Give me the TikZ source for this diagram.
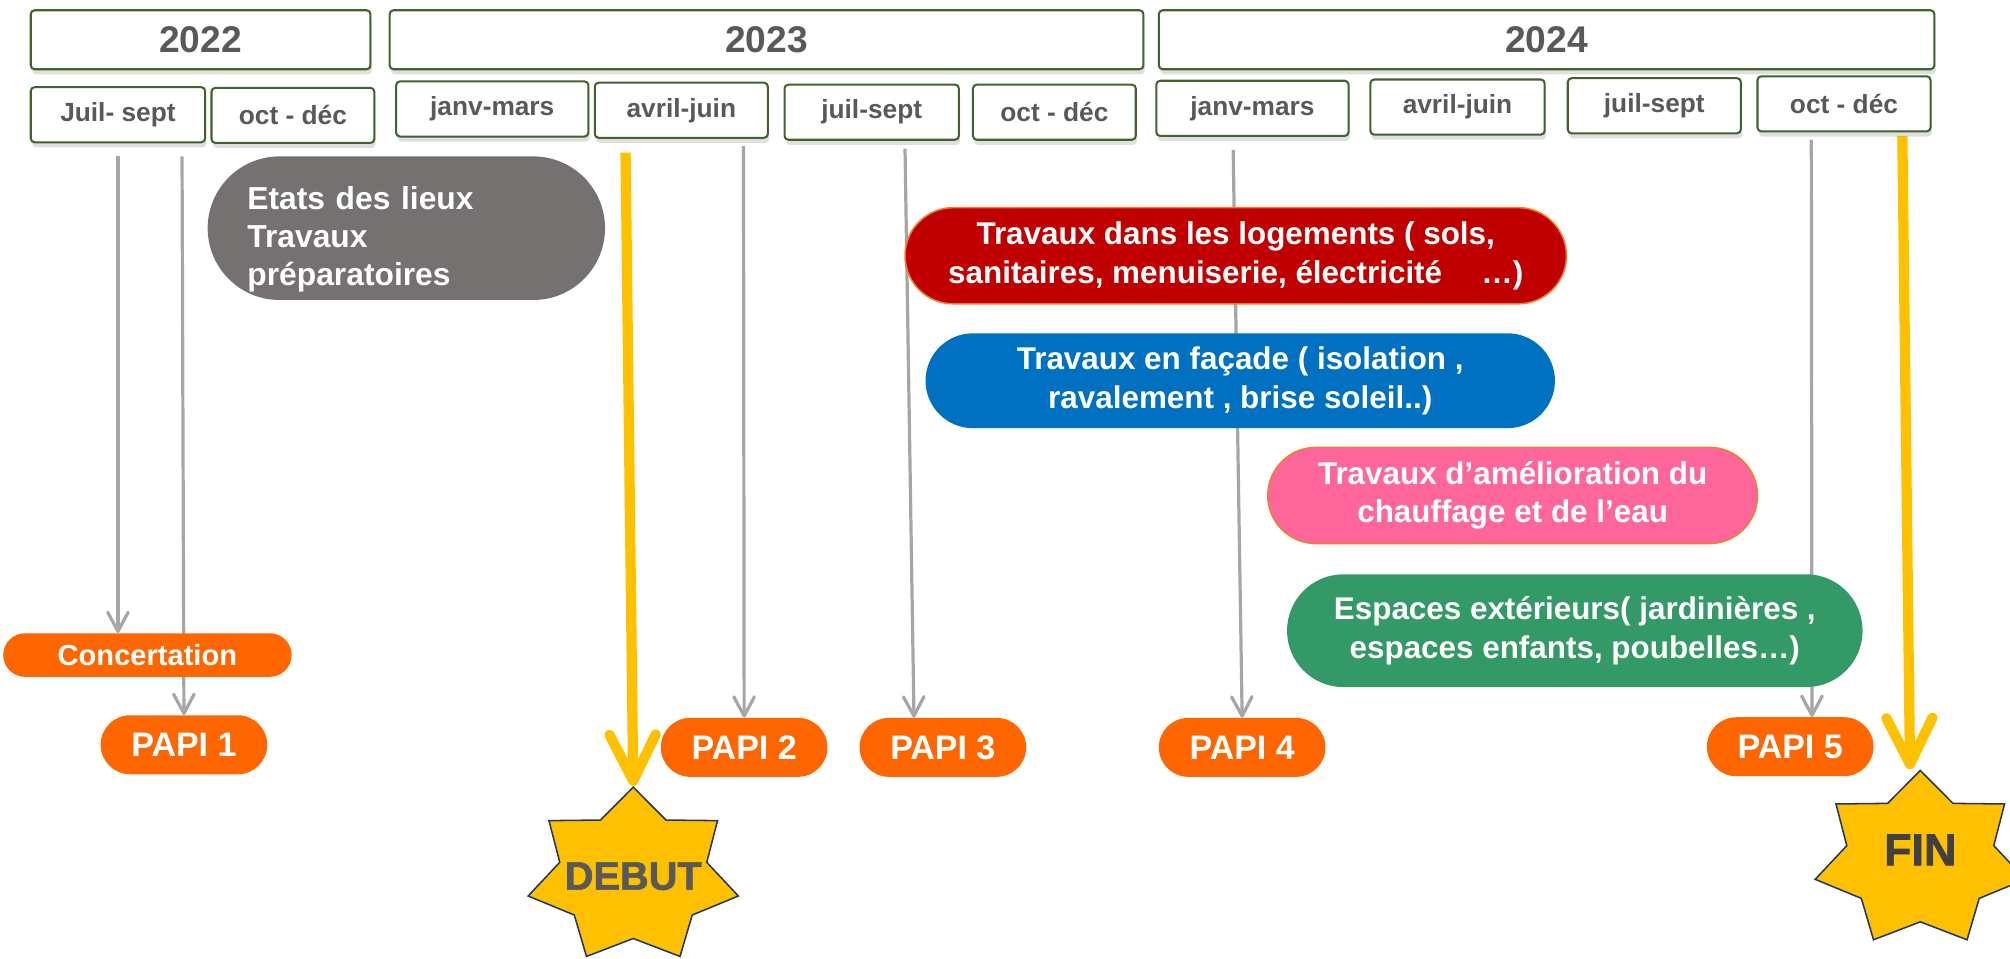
\documentclass[tikz,border=0pt]{standalone}
\usepackage{fontspec}
\setmainfont{Liberation Sans}
\usetikzlibrary{shapes.misc,shapes.geometric,arrows.meta,shadows,backgrounds}

\definecolor{boxgreen}{HTML}{41622C}
\definecolor{labelgray}{HTML}{595959}
\definecolor{arrowgray}{HTML}{A6A6A6}
\definecolor{papiorange}{HTML}{FF6600}
\definecolor{startyellow}{HTML}{FFC000}
\definecolor{etatsgray}{HTML}{767171}
\definecolor{logred}{HTML}{C00000}
\definecolor{facadeblue}{HTML}{0070C0}
\definecolor{chauffpink}{HTML}{FF6699}
\definecolor{extgreen}{HTML}{339966}
\definecolor{rimorange}{HTML}{ED7D31}
\definecolor{starnavy}{HTML}{1F3864}

\tikzset{
    yearbox/.style={draw=boxgreen, line width=1.6pt, fill=white, rounded corners=3pt,
        minimum height=46pt, inner sep=0pt, text=labelgray,
        font=\fontsize{29}{34}\selectfont\bfseries,
        drop shadow={shadow xshift=1pt, shadow yshift=-4pt, opacity=0.25}},
    quarterbox/.style={yearbox, minimum height=43pt,
        font=\fontsize{20.5}{24}\selectfont\bfseries},
    pill/.style={rounded rectangle, inner sep=0pt, text=white, align=center,
        font=\fontsize{24.5}{30}\selectfont\bfseries},
    papi/.style={pill, fill=papiorange, minimum width=130pt, minimum height=46pt,
        font=\fontsize{26.5}{30}\selectfont\bfseries},
    starbadge/.style={star, star points=7, star point ratio=1.43, minimum size=139pt,
        inner sep=0pt, fill=startyellow, draw=starnavy, line width=1.2pt, transform shape},
    grayarrow/.style={draw=arrowgray, line width=2.5pt,
        -{Straight Barb[length=15pt, width=16pt, round]}},
    yellowarrow/.style={draw=startyellow, line width=8pt,
        -{Straight Barb[length=36pt, width=36pt, round]}}
}

\begin{document}
\begin{tikzpicture}[x=1pt, y=-1pt]
    \useasboundingbox (0,0) rectangle (1568,748);

    % annees
    \node[yearbox, minimum width=265pt] (y2022) at (156.5, 31) {2022};
    \node[yearbox, minimum width=588pt] (y2023) at (598, 31) {2023};
    \node[yearbox, minimum width=605pt] (y2024) at (1206.5, 31) {2024};

    % trimestres
    \node[quarterbox, minimum width=136pt] (q1) at (92, 89.5) {Juil- sept};
    \node[quarterbox, minimum width=127pt] (q2) at (228.5, 90) {oct - déc};
    \node[quarterbox, minimum width=150pt] (q3) at (384, 85) {janv-mars};
    \node[quarterbox, minimum width=135pt] (q4) at (531.5, 86) {avril-juin};
    \node[quarterbox, minimum width=136pt] (q5) at (680, 87.5) {juil-sept};
    \node[quarterbox, minimum width=127pt] (q6) at (822.5, 87.5) {oct - déc};
    \node[quarterbox, minimum width=150pt] (q7) at (977, 84.5) {janv-mars};
    \node[quarterbox, minimum width=136pt] (q8) at (1137, 83.5) {avril-juin};
    \node[quarterbox, minimum width=135pt] (q9) at (1290.5, 82.5) {juil-sept};
    \node[quarterbox, minimum width=135pt] (q10) at (1438.5, 81) {oct - déc};

    % travaux
    \node[pill, fill=etatsgray, minimum width=310pt, minimum height=112pt,
        text width=248pt, align=left, font=\fontsize{24.8}{29.5}\selectfont\bfseries]
        (etats) at (317, 178) {\rule{0pt}{35pt}Etats des lieux\\Travaux\\préparatoires};
    \node[pill, fill=logred, draw=rimorange, line width=1.2pt,
        minimum width=516pt, minimum height=75pt] (logements) at (964, 199.5)
        {Travaux dans les logements ( sols,\\sanitaires, menuiserie, électricité\hspace{1.25em}…)};
    \node[pill, fill=facadeblue, minimum width=491pt, minimum height=74pt]
        (facade) at (967.5, 297) {Travaux en façade ( isolation ,\\ravalement , brise soleil..)};
    \node[pill, fill=chauffpink, draw=rimorange, line width=1.2pt,
        minimum width=382pt, minimum height=75pt] (chauffage) at (1180, 386.5)
        {Travaux d’amélioration du\\chauffage et de l’eau};
    \node[pill, fill=extgreen, minimum width=449pt, minimum height=88pt]
        (exterieurs) at (1228.5, 492) {Espaces extérieurs( jardinières ,\\espaces enfants, poubelles…)};

    % concertation et PAPI
    \node[pill, fill=papiorange, minimum width=225pt, minimum height=34pt,
        font=\fontsize{22.7}{26}\selectfont\bfseries] (concert) at (115, 511) {Concertation};
    \node[papi] (papi1) at (143.5, 581) {PAPI 1};
    \node[papi] (papi2) at (580.5, 583) {PAPI 2};
    \node[papi] (papi3) at (735.5, 583) {PAPI 3};
    \node[papi] (papi4) at (969, 583) {PAPI 4};
    \node[papi] (papi5) at (1396.5, 582.5) {PAPI 5};

    % etoiles
    \begin{scope}[shift={(494, 683.5)}, xscale=1.21]
        \node[starbadge] (debut) at (0, 0) {};
    \end{scope}
    \node[text=labelgray, font=\fontsize{31}{34}\selectfont\bfseries\addfontfeatures{FakeBold=1.5}]
        (debuttxt) at (debut.center) {DEBUT};

    \begin{scope}[shift={(1498, 670.5)}, xscale=1.21]
        \node[starbadge] (fin) at (0, 0) {};
    \end{scope}
    \node[text=black!75, font=\fontsize{35}{38}\selectfont\bfseries\addfontfeatures{FakeBold=1.5}]
        (fintxt) at ([yshift=7.5pt]fin.center) {FIN};

    % fleches
    \begin{scope}[on background layer]
        \coordinate (g1) at (92, 122);
        \coordinate (g2) at (142, 122);
        \coordinate (g3) at (580, 114);
        \coordinate (g4) at (706, 116);
        \coordinate (g5) at (962, 117);
        \coordinate (g6) at (1413, 109);
        \coordinate (ys1) at (488, 119);
        \coordinate (ys2) at (1484, 106);

        \draw[grayarrow] (g1) -- (g1 |- concert.north);
        \draw[grayarrow] (g2) -- (papi1.north);
        \draw[grayarrow] (g3) -- (papi2.north);
        \draw[grayarrow] (g4) -- ([xshift=-22.5pt]papi3.north);
        \draw[grayarrow] (g5) -- (papi4.north);
        \draw[grayarrow] (g6) -- ([xshift=17pt]papi5.north);

        \draw[yellowarrow] (ys1) -- (debut.north);
        \draw[yellowarrow] (ys2) -- ([xshift=-8pt]fin.north);
    \end{scope}
\end{tikzpicture}
\end{document}
